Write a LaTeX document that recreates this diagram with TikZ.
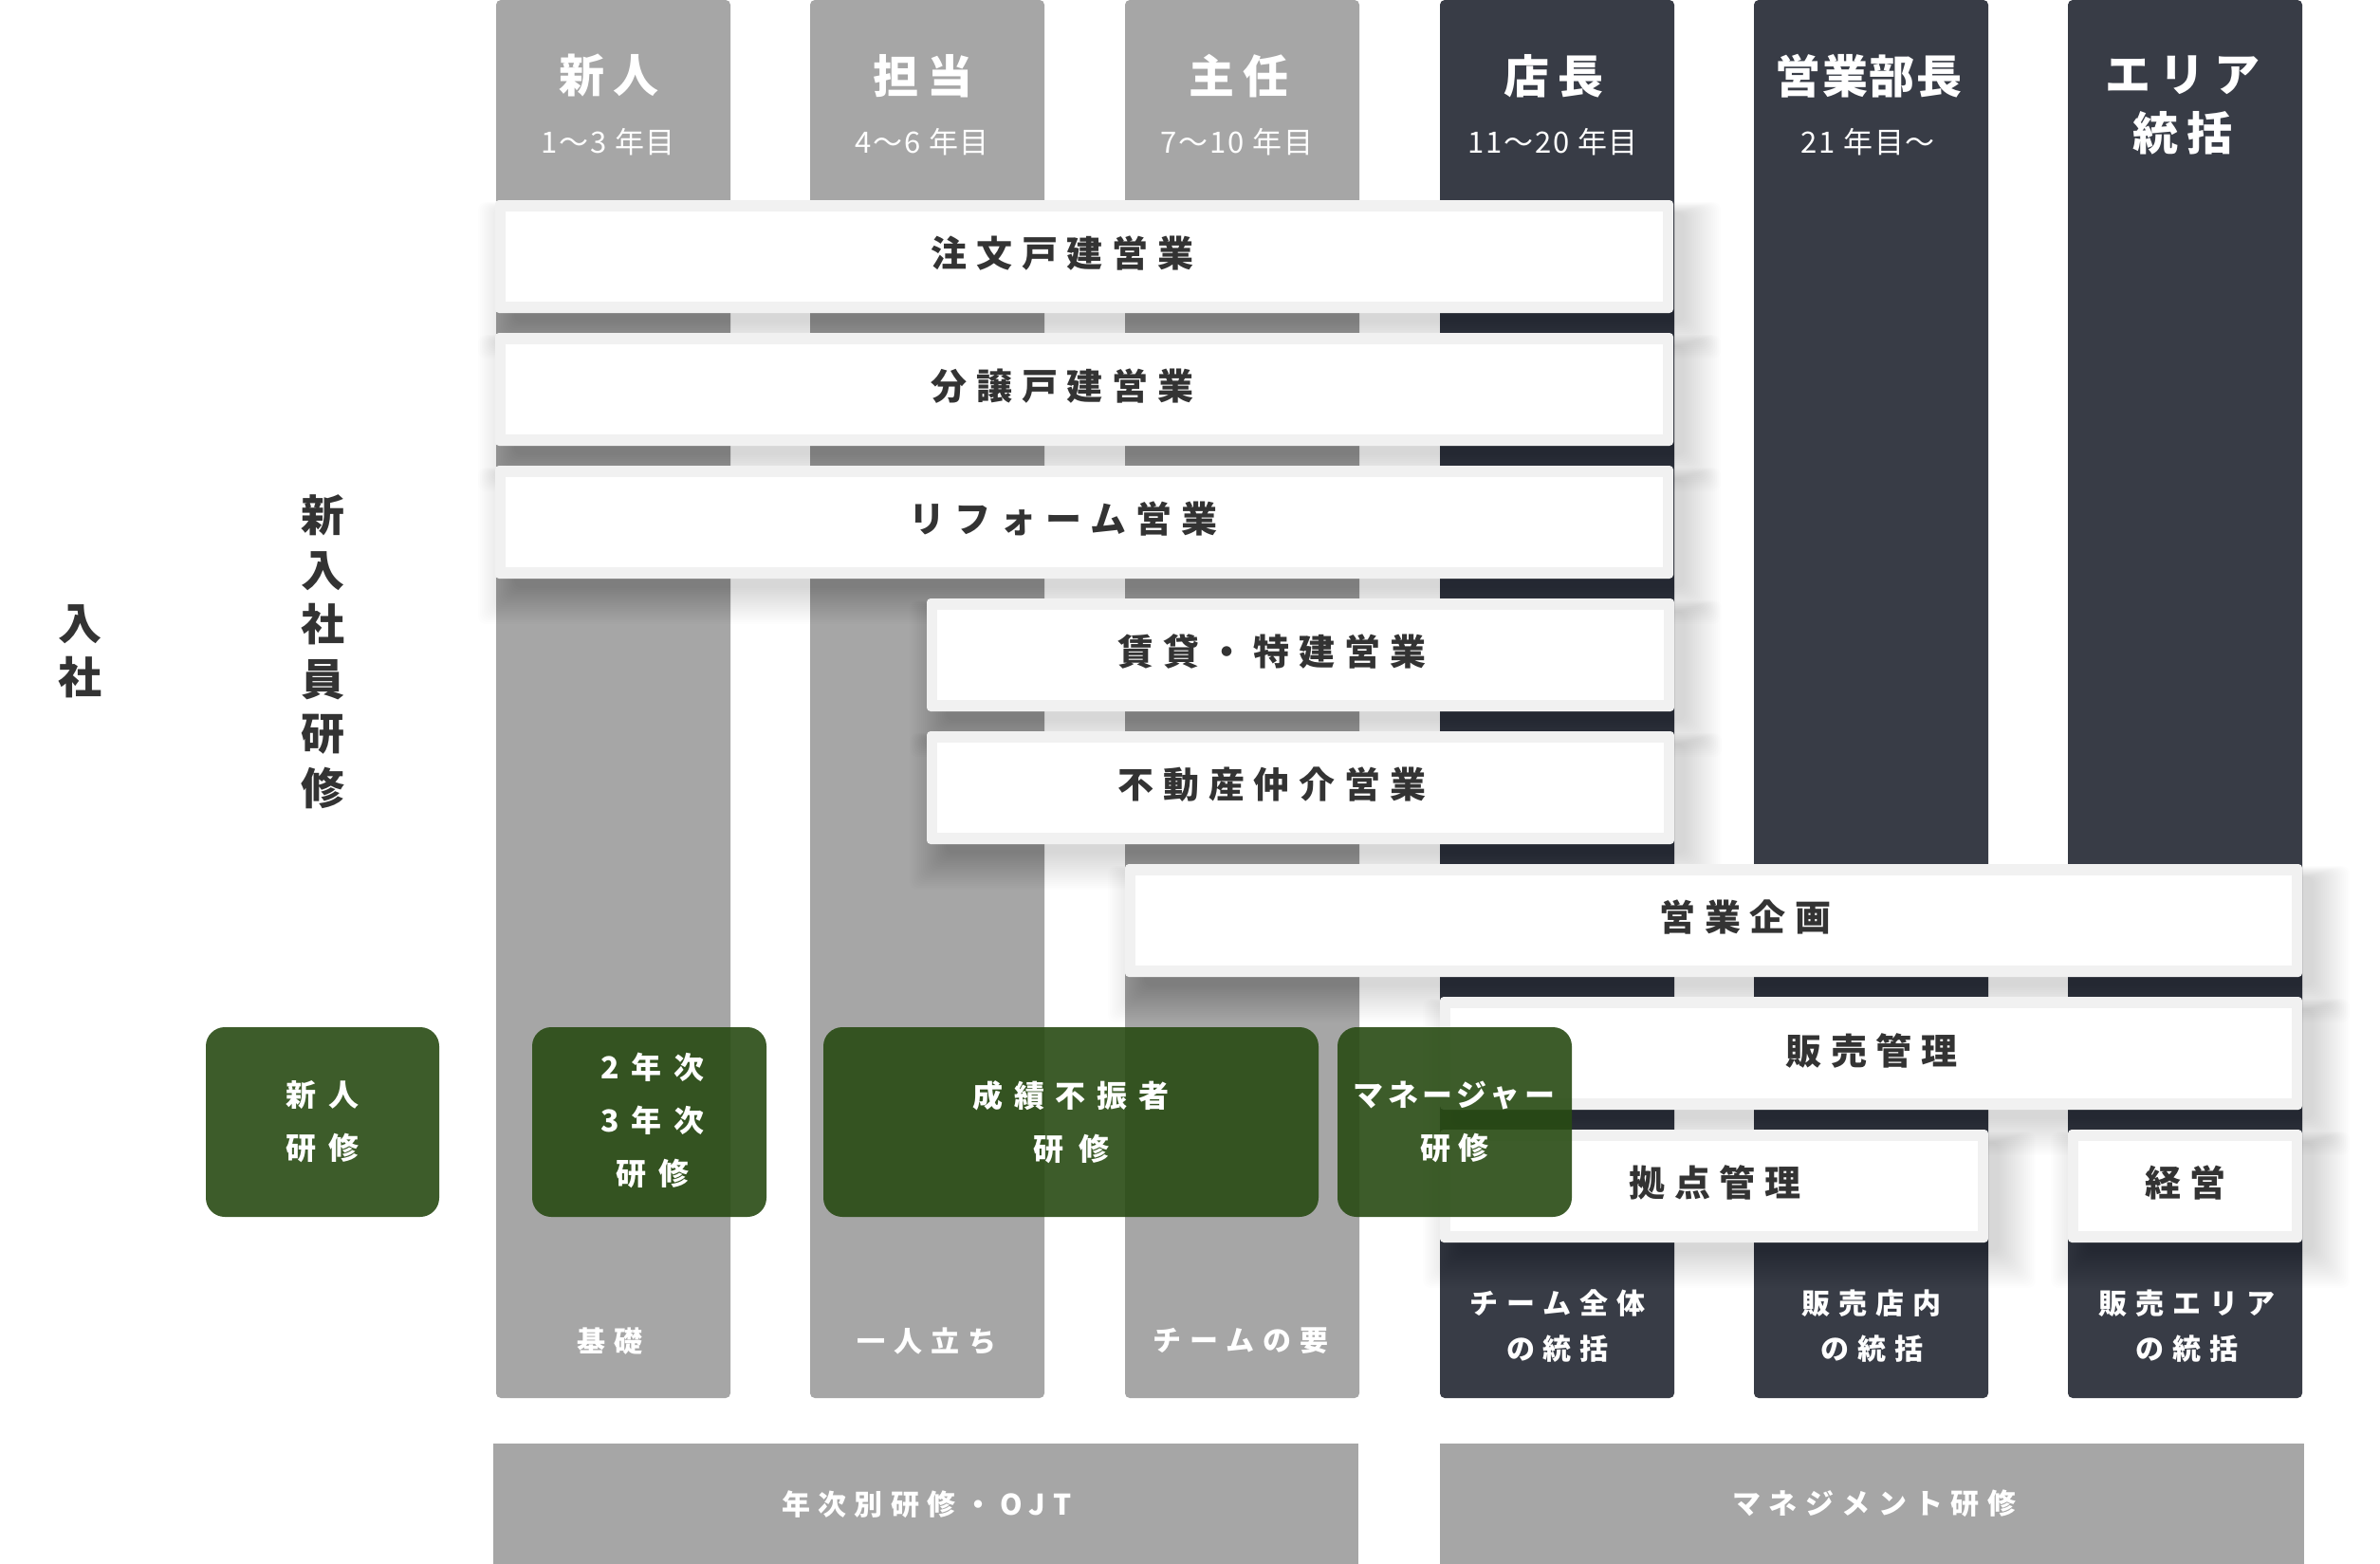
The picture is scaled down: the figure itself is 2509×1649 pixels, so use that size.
\documentclass[tikz,border=0pt]{standalone}
\usepackage{fontspec}
\setmainfont{Noto Sans CJK JP}
\definecolor{colgray}{RGB}{166,166,166}
\definecolor{coldark}{RGB}{56,60,70}
\definecolor{boxrim}{RGB}{241,241,241}
\definecolor{txtdark}{RGB}{51,51,51}
\definecolor{grn}{RGB}{40,75,19}
\newcommand{\fsz}[2]{\fontsize{#1pt}{#2pt}\selectfont}
\newcommand{\lsp}[1]{\addfontfeature{LetterSpace=#1}}
\newcommand{\bshadow}[4]{%
  \foreach \k in {1,...,20}{%
    \fill[black, opacity=0.0085, rounded corners=8pt] (#1+22-2*\k,#2+14-0.6*\k) rectangle (#3+10+2*\k,#4+8+2*\k);
  }}
\newcommand{\wbox}[4]{%
  \fill[boxrim, rounded corners=4pt] (#1,#2) rectangle (#3,#4);
  \fill[white] (#1+11,#2+12) rectangle (#3-11,#4-12);
}
\begin{document}
\begin{tikzpicture}[x=1pt,y=-1pt,
  hdr/.style={text=white, font=\fsz{48}{62}\bfseries\lsp{19}, inner sep=0pt, align=center},
  subhdr/.style={text=white, font=\fsz{31}{31}\lsp{6}, inner sep=0pt},
  lbl/.style={text=txtdark, font=\fsz{38}{38}\bfseries\lsp{26}, inner sep=0pt},
  glbl/.style={text=white, font=\fsz{32}{56}\bfseries\lsp{40}, inner sep=0pt, align=center},
  foot/.style={text=white, font=\fsz{30}{48}\bfseries\lsp{30}, inner sep=0pt, align=center},
  side/.style={text=txtdark, font=\fsz{46}{57.5}\bfseries, inner sep=0pt, align=center},
  greenbox/.style={fill=grn, fill opacity=0.9, rounded corners=20pt},
]
\useasboundingbox[fill=white] (0,0) rectangle (2509,1649);

% columns
\foreach \x/\c in {523/colgray,854/colgray,1186/colgray,1518/coldark,1849/coldark,2180/coldark}{
  \fill[\c, rounded corners=5pt] (\x,0) rectangle (\x+247,1474);
}
% bottom bars
\fill[colgray] (520,1522) rectangle (1432,1649);
\fill[colgray] (1518,1522) rectangle (2429,1649);

% shadows
\bshadow{522}{211}{1764}{330}
\bshadow{522}{351}{1764}{470}
\bshadow{522}{491}{1764}{610}
\bshadow{977}{631}{1765}{750}
\bshadow{977}{771}{1765}{890}
\bshadow{1186}{911}{2427}{1030}
\bshadow{1518}{1051}{2427}{1170}
\bshadow{1518}{1191}{2096}{1310}
\bshadow{2180}{1191}{2427}{1310}

% white boxes
\wbox{522}{211}{1764}{330}
\wbox{522}{351}{1764}{470}
\wbox{522}{491}{1764}{610}
\wbox{977}{631}{1765}{750}
\wbox{977}{771}{1765}{890}
\wbox{1186}{911}{2427}{1030}
\wbox{1518}{1051}{2427}{1170}
\wbox{1518}{1191}{2096}{1310}
\wbox{2180}{1191}{2427}{1310}

% box labels
\node[lbl] (b1) at (1120,267) {注文戸建営業};
\node[lbl] (b2) at (1120,407) {分譲戸建営業};
\node[lbl] (b3) at (1121,547) {リフォーム営業};
\node[lbl] (b4) at (1341,687) {賃貸・特建営業};
\node[lbl] (b5) at (1341,827) {不動産仲介営業};
\node[lbl] (b6) at (1840,967) {営業企画};
\node[lbl] (b7) at (1973,1108) {販売管理};
\node[lbl] (b8) at (1808,1247) {拠点管理};
\node[lbl] (b9) at (2304,1247) {経営};

% headers
\node[hdr] (h1) at (642,80) {新人};
\node[hdr] (h2) at (973,80) {担当};
\node[hdr] (h3) at (1306,80) {主任};
\node[hdr] (h4) at (1638,80) {店長};
\node[hdr, font=\fsz{48}{62}\bfseries\lsp{4}] (h5) at (1970,80) {営業部長};
\node[hdr] (h6) at (2301,111) {エリア\\統括};

\node[subhdr] (s1) at (641,150) {1〜3 年目};
\node[subhdr] (s2) at (972,150) {4〜6 年目};
\node[subhdr] (s3) at (1304,150) {7〜10 年目};
\node[subhdr] (s4) at (1637,150) {11〜20 年目};
\node[subhdr] (s5) at (1969,150) {21 年目〜};

% column footers
\node[foot] (f1) at (643,1414) {基礎};
\node[foot] (f2) at (977,1414) {一人立ち};
\node[foot] (f3) at (1308,1414) {チームの要};
\node[foot] (f4) at (1642,1398) {チーム全体\\の統括};
\node[foot] (f5) at (1973,1398) {販売店内\\の統括};
\node[foot] (f6) at (2305,1398) {販売エリア\\の統括};

% bottom bar labels
\node[foot, font=\fsz{30}{30}\bfseries\lsp{28}] (m1) at (977,1586) {年次別研修・OJT};
\node[foot, font=\fsz{30}{30}\bfseries\lsp{28}] (m2) at (1976,1585) {マネジメント研修};

% green training boxes
\fill[greenbox] (217,1083) rectangle (463,1283);
\fill[greenbox] (561,1083) rectangle (808,1283);
\fill[greenbox] (868,1083) rectangle (1390,1283);
\fill[greenbox] (1410,1083) rectangle (1657,1283);
\node[glbl] (t1) at (340,1183) {新人\\研修};
\node[glbl] (t2) at (688,1181) {2年次\\3年次\\研修};
\node[glbl, font=\fsz{32}{56}\bfseries\lsp{36}] (t3) at (1129,1183) {成績不振者\\{\lsp{50}研修}};
\node[glbl, font=\fsz{32}{56}\bfseries\lsp{14}] (t4) at (1533,1183) {マネージャー\\{\lsp{25}研修}};

% side labels
\node[side] (e1) at (84,687) {入\\社};
\node[side] (e2) at (340,687) {新\\入\\社\\員\\研\\修};
\end{tikzpicture}
\end{document}
